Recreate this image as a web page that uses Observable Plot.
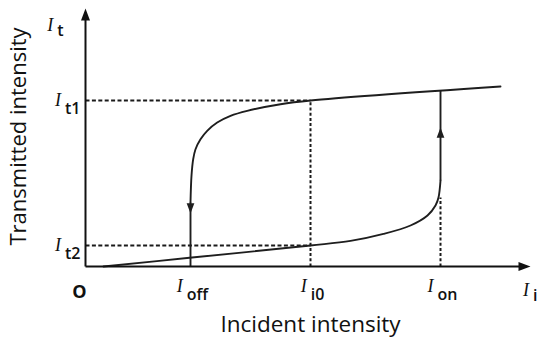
<!DOCTYPE html>
<html><head><meta charset="utf-8">
<script src="https://cdn.jsdelivr.net/npm/d3@7"></script>
<script src="https://cdn.jsdelivr.net/npm/@observablehq/plot@0.6"></script>
<style>
html,body{margin:0;padding:0;background:#fff;}
#chart{width:539px;height:337px;overflow:hidden;}
</style></head><body><div id="chart"></div>
<script>
// axis extents (intensity units)
const xMax = 445, yMax = 258;
// tick positions and labels ("|" separates symbol from subscript)
const xTickValues = [105, 225, 355];
const xTickLabels = ["I|off", "I|i0", "I|on"];
const yTickValues = [166, 21];
const yTickLabels = ["I|t1", "I|t2"];
const xAxisName = "I|i";
const yAxisName = "I|t";
const originLabel = "O";
const xTitle = "Incident intensity";
const yTitle = "Transmitted intensity";
// upper (high transmission) branch, from right to left
const upperX = [415, 225, 195, 161.7, 145, 131.7, 121.7, 115, 110, 107.7, 106, 105];
const upperY = [180, 166, 162.3, 155.7, 150.7, 144, 135.7, 127.3, 117.3, 107.3, 90.7, 64];
// lower (low transmission) branch, from left to right
const lowerX = [18, 104, 225, 265, 298, 325, 342, 350, 353, 355];
const lowerY = [0, 8.7, 21, 25.6, 32.6, 41, 51, 61, 69, 86];
// switching jumps (off: down, on: up)
const jumpX = [105, 355];
const jumpFrom = [64, 86];
const jumpTo = [0, 175.7];
const arrowY = [53, 139];
const arrowDir = ["down", "up"];
// dashed guides
const guideI0 = 225, guideOnTop = 69;

const upper = upperX.map((x, i) => ({x, y: upperY[i]}));
const lower = lowerX.map((x, i) => ({x, y: lowerY[i]}));
const jumps = jumpX.map((x, i) => ({x, y1: jumpFrom[i], y2: jumpTo[i], ya: arrowY[i], dir: arrowDir[i]}));
const hGuides = yTickValues.map(y => ({x1: 0, x2: guideI0, y}));
const vGuides = [{x: guideI0, y1: 0, y2: yTickValues[0]}, {x: xTickValues[2], y1: 0, y2: guideOnTop}];
const xTicks = xTickValues.map((x, i) => ({x, label: xTickLabels[i]}));
const yTicks = yTickValues.map((y, i) => ({y, label: yTickLabels[i]}));

const head = dir => ({
  draw(ctx, size) {
    const r = Math.sqrt(size / Math.PI), L = 2.4 * r, W = 0.9 * r;
    if (dir === "up") { ctx.moveTo(0, 0); ctx.lineTo(-W, L); ctx.lineTo(W, L); }
    else if (dir === "down") { ctx.moveTo(0, 0); ctx.lineTo(-W, -L); ctx.lineTo(W, -L); }
    else { ctx.moveTo(0, 0); ctx.lineTo(-L, -W); ctx.lineTo(-L, W); }
    ctx.closePath();
  }
});

const ink = "#111";
const curveInk = "#1e1e1e";

const svg = Plot.plot({
  width: 539, height: 337,
  marginLeft: 85, marginRight: 9, marginTop: 8, marginBottom: 71,
  x: {domain: [0, xMax], axis: null},
  y: {domain: [0, yMax], axis: null},
  style: {background: "white", fontFamily: "'Open Sans', sans-serif", color: ink},
  marks: [
    // dashed guides
    Plot.link(hGuides, {x1: "x1", x2: "x2", y1: "y", y2: "y", stroke: "#1a1a1a", strokeWidth: 2, strokeDasharray: "4,2.4"}),
    Plot.link(vGuides, {x1: "x", x2: "x", y1: "y1", y2: "y2", stroke: "#1a1a1a", strokeWidth: 2, strokeDasharray: "3,2.2"}),
    // branches
    Plot.line(upper, {x: "x", y: "y", curve: "catmull-rom", stroke: curveInk, strokeWidth: 1.9}),
    Plot.line(lower, {x: "x", y: "y", curve: "catmull-rom", stroke: curveInk, strokeWidth: 1.9}),
    Plot.link(jumps, {x1: "x", x2: "x", y1: "y1", y2: "y2", stroke: curveInk, strokeWidth: 1.9}),
    Plot.dot(jumps.filter(d => d.dir === "down"), {x: "x", y: "ya", symbol: head("down"), r: 4.3, fill: curveInk, stroke: "none"}),
    Plot.dot(jumps.filter(d => d.dir === "up"), {x: "x", y: "ya", symbol: head("up"), r: 4.3, fill: curveInk, stroke: "none"}),
    // axes
    Plot.link([{x1: 0, y1: 0, x2: xMax - 4, y2: 0}], {x1: "x1", y1: "y1", x2: "x2", y2: "y2", stroke: ink, strokeWidth: 2}),
    Plot.link([{x1: 0, y1: 0, x2: 0, y2: yMax - 4}], {x1: "x1", y1: "y1", x2: "x2", y2: "y2", stroke: ink, strokeWidth: 2}),
    Plot.dot([{x: xMax, y: 0}], {x: "x", y: "y", symbol: head("right"), r: 5, fill: ink, stroke: "none"}),
    Plot.dot([{x: 0, y: yMax}], {x: "x", y: "y", symbol: head("up"), r: 5, fill: ink, stroke: "none"}),
    // tick labels
    Plot.text(xTicks, {x: "x", y: () => 0, text: "label", textAnchor: "middle", lineAnchor: "bottom", dx: 2, dy: 25, fontSize: 18, fill: ink}),
    Plot.text(yTicks, {x: () => 0, y: "y", text: "label", textAnchor: "end", lineAnchor: "bottom", dx: -5, dy: 5, fontSize: 18, fill: ink}),
    Plot.text([{x: xMax, y: 0, label: xAxisName}], {x: "x", y: "y", text: "label", textAnchor: "end", lineAnchor: "bottom", dx: 7, dy: 29, fontSize: 18, fill: ink}),
    Plot.text([{x: 0, y: yMax, label: yAxisName}], {x: "x", y: "y", text: "label", textAnchor: "end", lineAnchor: "bottom", dx: -22, dy: 22, fontSize: 18, fill: ink}),
    Plot.text([{x: 0, y: 0, label: originLabel}], {x: "x", y: "y", text: "label", textAnchor: "middle", lineAnchor: "bottom", dx: -6, dy: 31, fontSize: 18, fontWeight: "bold", fill: ink}),
    // axis titles
    Plot.text([{x: guideI0, y: 0, label: xTitle}], {x: "x", y: "y", text: "label", textAnchor: "middle", lineAnchor: "bottom", dy: 65, fontSize: 22.5, fill: ink}),
    Plot.text([{x: 0, y: 130, label: yTitle}], {x: "x", y: "y", text: "label", textAnchor: "middle", lineAnchor: "bottom", rotate: -90, dx: -60, fontSize: 22, fill: ink})
  ]
});

// remove em-based baseline shifts so the baseline sits on the anchor point
svg.querySelectorAll("text").forEach(t => {
  for (const a of ["y", "dy"]) {
    const v = t.getAttribute(a);
    if (v && /em$/.test(v)) t.removeAttribute(a);
  }
});
// symbol + subscript rich labels
const ns = "http://www.w3.org/2000/svg";
const axisNames = [xAxisName, yAxisName];
svg.querySelectorAll("text").forEach(t => {
  const txt = t.textContent;
  if (!txt.includes("|")) return;
  const subDy = axisNames.includes(txt) ? 5 : 8;
  const [a, b] = txt.split("|");
  t.textContent = "";
  const s1 = document.createElementNS(ns, "tspan");
  s1.setAttribute("font-family", "'Liberation Serif', 'Times New Roman', serif");
  s1.setAttribute("font-style", "italic");
  s1.setAttribute("font-size", "18");
  s1.textContent = a;
  const s2 = document.createElementNS(ns, "tspan");
  s2.setAttribute("font-family", "'Open Sans', sans-serif");
  s2.setAttribute("font-weight", "600");
  s2.setAttribute("font-size", "16");
  s2.setAttribute("dx", "4");
  s2.setAttribute("dy", String(subDy));
  s2.textContent = b;
  t.appendChild(s1); t.appendChild(s2);
});

document.getElementById("chart").appendChild(svg);
</script></body></html>
